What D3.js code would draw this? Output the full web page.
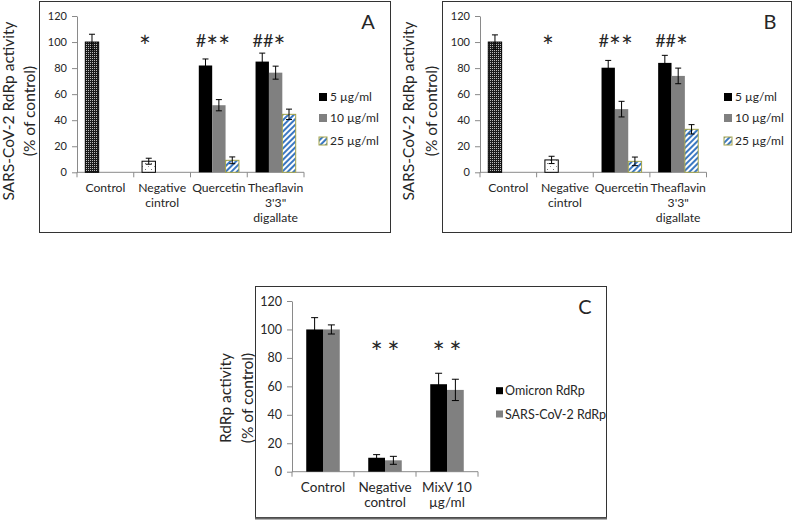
<!DOCTYPE html>
<html><head><meta charset="utf-8">
<script src="https://cdn.jsdelivr.net/npm/d3@7/dist/d3.min.js"></script>
<style>
body{margin:0;background:#fff}
svg{display:block}
text{font-family:Lato,"Liberation Sans",sans-serif;fill:#262626}
</style>
</head><body>
<svg id="chart" width="797" height="521"></svg>
<script>
// ---------- DATA ----------
const categoriesAB = ["Control", "Negative cintrol", "Quercetin", "Theaflavin 3'3\" digallate"];
const categoryLinesAB = [["Control"], ["Negative", "cintrol"], ["Quercetin"], ["Theaflavin", "3'3\"", "digallate"]];
const doseSeries = ["5 µg/ml", "10 µg/ml", "25 µg/ml"];
const yTicksAB = [0, 20, 40, 60, 80, 100, 120];
const yLabelLinesAB = ["SARS-CoV-2 RdRp activity", "(% of control)"];

// Panel A  (reference bars: Control, Negative cintrol; dose bars: Quercetin, Theaflavin)
const A_refValues = [100, 8.5];
const A_refErrors = [6, 2.3];
const A_dose5 = [82, 85];
const A_dose5Err = [5, 6.5];
const A_dose10 = [51.5, 76.5];
const A_dose10Err = [4.3, 5];
const A_dose25 = [9.2, 44.5];
const A_dose25Err = [2.6, 4];
const A_marks = ["", "*", "#**", "##*"];

// Panel B
const B_refValues = [100, 9.5];
const B_refErrors = [5.5, 2.8];
const B_dose5 = [80.3, 84];
const B_dose5Err = [5.6, 5.8];
const B_dose10 = [48.5, 74];
const B_dose10Err = [6, 6];
const B_dose25 = [8.4, 33];
const B_dose25Err = [3.3, 3.6];
const B_marks = ["", "*", "#**", "##*"];

// Panel C
const categoriesC = ["Control", "Negative control", "MixV 10 µg/ml"];
const categoryLinesC = [["Control"], ["Negative", "control"], ["MixV 10", "µg/ml"]];
const enzymeSeries = ["Omicron RdRp", "SARS-CoV-2 RdRp"];
const C_omicron = [100, 9.8, 61.5];
const C_omicronErr = [8.3, 2.2, 7.7];
const C_sars = [100, 8, 57.5];
const C_sarsErr = [3.2, 2.8, 7.5];
const C_marks = [["", ""], ["*", "*"], ["*", "*"]];
const yTicksC = [0, 20, 40, 60, 80, 100, 120];
const yLabelLinesC = ["RdRp activity", "(% of control)"];

// ---------- DRAWING ----------
const svg = d3.select("#chart");
svg.append("rect").attr("width", 797).attr("height", 521).attr("fill", "#fff");
const defs = svg.append("defs");

const pc = defs.append("pattern").attr("id", "checker").attr("patternUnits", "userSpaceOnUse")
  .attr("width", 2).attr("height", 2);
pc.append("rect").attr("width", 2).attr("height", 2).attr("fill", "#1a1a1a");
pc.append("rect").attr("width", 1).attr("height", 1).attr("fill", "#bbbbbb");
const pd = defs.append("pattern").attr("id", "dots").attr("patternUnits", "userSpaceOnUse")
  .attr("width", 6).attr("height", 6);
pd.append("rect").attr("width", 6).attr("height", 6).attr("fill", "#fff");
pd.append("rect").attr("x", 1).attr("y", 1).attr("width", 1).attr("height", 1).attr("fill", "#777");
pd.append("rect").attr("x", 4).attr("y", 4).attr("width", 1).attr("height", 1).attr("fill", "#999");
const ps = defs.append("pattern").attr("id", "stripes").attr("patternUnits", "userSpaceOnUse")
  .attr("width", 4).attr("height", 4).attr("patternTransform", "rotate(45)");
ps.append("rect").attr("width", 4).attr("height", 4).attr("fill", "#fff");
ps.append("rect").attr("width", 2).attr("height", 4).attr("fill", "#3b78c2");

const doseFill = ["#000000", "#808080", "url(#stripes)"];
const doseStroke = ["none", "none", "#a3a34a"];
const refFill = ["url(#checker)", "url(#dots)"];
const axisColor = "#8a8a8a";

function errorBar(g, cx, y, v, e, cap) {
  g.append("line").attr("x1", cx).attr("x2", cx).attr("y1", y(v + e)).attr("y2", y(v - e))
    .attr("stroke", "#000").attr("stroke-width", 1);
  [v + e, v - e].forEach(t => g.append("line").attr("x1", cx - cap).attr("x2", cx + cap)
    .attr("y1", y(t)).attr("y2", y(t)).attr("stroke", "#000").attr("stroke-width", 1));
}

function yAxis(g, y, ticks, left, fontSize) {
  const ax = g.append("g").attr("transform", `translate(${left},0)`)
    .call(d3.axisLeft(y).tickValues(ticks).tickSize(5).tickPadding(5).tickSizeOuter(0));
  ax.select(".domain").attr("stroke", axisColor);
  ax.selectAll(".tick line").attr("stroke", axisColor);
  ax.selectAll(".tick text").attr("font-size", fontSize).attr("font-family", "Lato").attr("fill", "#333");
}

function xAxis(g, x, y, lines, fontSize, lineGap, firstOffset) {
  const [r0, r1] = x.range();
  g.append("line").attr("x1", r0).attr("x2", r1).attr("y1", y(0)).attr("y2", y(0)).attr("stroke", axisColor);
  x.domain().forEach((c, i) => {
    const bx = x(c);
    g.append("line").attr("x1", bx).attr("x2", bx).attr("y1", y(0)).attr("y2", y(0) + 5).attr("stroke", axisColor);
    const t = g.append("text").attr("text-anchor", "middle").attr("font-size", fontSize);
    lines[i].forEach((ln, k) => t.append("tspan").attr("x", bx + x.bandwidth() / 2)
      .attr("y", y(0) + firstOffset + k * lineGap).text(ln));
  });
  g.append("line").attr("x1", r1).attr("x2", r1).attr("y1", y(0)).attr("y2", y(0) + 5).attr("stroke", axisColor);
}

function yLabel(g, lines, xs, cy, fontSize) {
  lines.forEach((ln, k) => g.append("text").attr("transform", `translate(${xs[k]},${cy}) rotate(-90)`)
    .attr("text-anchor", "middle").attr("font-size", fontSize).text(ln));
}

// significance mark: '#' at normal size, '*' enlarged and lowered
function markText(g, x, baseline, str, starSize, starBaseline, anchor) {
  const t = g.append("text").attr("x", x).attr("y", baseline).attr("text-anchor", anchor)
    .attr("font-family", "DejaVu Sans").attr("fill", "#111");
  str.split("").forEach(ch => {
    const sp = t.append("tspan").text(ch);
    if (ch === "*") sp.attr("font-size", starSize).attr("y", starBaseline);
    else sp.attr("font-size", 18).attr("y", baseline);
  });
}

function panelAB(o) {
  const g = svg.append("g");
  g.append("rect").attr("x", o.frame[0]).attr("y", o.frame[1]).attr("width", o.frame[2]).attr("height", o.frame[3])
    .attr("fill", "none").attr("stroke", "#333");
  const y = d3.scaleLinear().domain([0, 120]).range([o.plot[3], o.plot[1]]);
  const x = d3.scaleBand().domain(categoriesAB).range([o.plot[0], o.plot[2]]).paddingInner(0).paddingOuter(0);
  const xs = d3.scaleBand().domain(doseSeries).range([0, x.bandwidth()]).paddingInner(0).paddingOuter(0.62);
  yAxis(g, y, yTicksAB, o.plot[0], 11);
  xAxis(g, x, y, categoryLinesAB, 12.2, 15, 20);
  o.ref.forEach((v, i) => {
    const bx = x(categoriesAB[i]) + xs(doseSeries[0]);
    g.append("rect").attr("x", bx).attr("y", y(v)).attr("width", xs.bandwidth()).attr("height", y(0) - y(v))
      .attr("fill", refFill[i]).attr("stroke", "#000").attr("stroke-width", 1);
    errorBar(g, bx + xs.bandwidth() / 2, y, v, o.refErr[i], 3);
  });
  o.doses.forEach((vals, s) => {
    vals.forEach((v, j) => {
      const bx = x(categoriesAB[j + 2]) + xs(doseSeries[s]);
      const r = g.append("rect").attr("x", bx).attr("y", y(v)).attr("width", xs.bandwidth())
        .attr("height", y(0) - y(v)).attr("fill", doseFill[s]);
      if (doseStroke[s] !== "none") r.attr("stroke", doseStroke[s]).attr("stroke-width", 1);
      errorBar(g, bx + xs.bandwidth() / 2, y, v, o.doseErr[s][j], 3);
    });
  });
  o.marks.forEach((m, i) => {
    if (!m) return;
    markText(g, x(categoriesAB[i]) + xs(doseSeries[0]) - 3, 47, m, 28, 57, "start");
  });
  doseSeries.forEach((s, k) => {
    const ly = o.legendY[k];
    g.append("rect").attr("x", o.legendX).attr("y", ly - 4).attr("width", 8).attr("height", 8)
      .attr("fill", doseFill[k]).attr("stroke", doseStroke[k] === "none" ? "none" : doseStroke[k]);
    g.append("text").attr("x", o.legendX + 11).attr("y", ly + 4).attr("font-size", 12).text(s);
  });
  g.append("text").attr("x", o.letter[0]).attr("y", o.letter[1]).attr("text-anchor", "middle")
    .attr("font-size", 20).text(o.letterText);
  yLabel(g, yLabelLinesAB, o.ylabX, 111, 15.5);
}

panelAB({
  frame: [39.5, 1.5, 351, 231], plot: [77, 16, 304, 172.3],
  ref: A_refValues, refErr: A_refErrors,
  doses: [A_dose5, A_dose10, A_dose25], doseErr: [A_dose5Err, A_dose10Err, A_dose25Err],
  marks: A_marks, legendX: 319, legendY: [97, 118, 141], letter: [368, 29], letterText: "A", ylabX: [14, 35]
});
panelAB({
  frame: [442.5, 1.5, 349, 231], plot: [480, 16, 706.5, 172.3],
  ref: B_refValues, refErr: B_refErrors,
  doses: [B_dose5, B_dose10, B_dose25], doseErr: [B_dose5Err, B_dose10Err, B_dose25Err],
  marks: B_marks, legendX: 724, legendY: [97, 118, 141], letter: [770, 29], letterText: "B", ylabX: [414, 437]
});

// Panel C
(function () {
  const g = svg.append("g");
  g.append("rect").attr("x", 255.5).attr("y", 286.5).attr("width", 351).attr("height", 231)
    .attr("fill", "none").attr("stroke", "#333");
  g.append("line").attr("x1", 255).attr("x2", 607).attr("y1", 518.5).attr("y2", 518.5).attr("stroke", "#666").attr("stroke-width", 2);
  const y = d3.scaleLinear().domain([0, 120]).range([471.7, 301]);
  const x = d3.scaleBand().domain(categoriesC).range([292, 478]).paddingInner(0).paddingOuter(0);
  const xs = d3.scaleBand().domain(enzymeSeries).range([0, x.bandwidth()]).paddingInner(0).paddingOuter(0.85);
  yAxis(g, y, yTicksC, 292, 12.5);
  xAxis(g, x, y, categoryLinesC, 13.5, 15, 20);
  const vals = [C_omicron, C_sars], errs = [C_omicronErr, C_sarsErr], fills = ["#000", "#808080"];
  enzymeSeries.forEach((s, k) => {
    categoriesC.forEach((c, i) => {
      const v = vals[k][i];
      const bx = x(c) + xs(s);
      g.append("rect").attr("x", bx).attr("y", y(v)).attr("width", xs.bandwidth()).attr("height", y(0) - y(v))
        .attr("fill", fills[k]);
      errorBar(g, bx + xs.bandwidth() / 2, y, v, errs[k][i], 3.5);
      const m = C_marks[i][k];
      if (m) markText(g, bx + xs.bandwidth() / 2, 363, m, 29, 363, "middle");
    });
  });
  enzymeSeries.forEach((s, k) => {
    const ly = [390.7, 414][k];
    g.append("rect").attr("x", 496).attr("y", ly - 3.5).attr("width", 7).attr("height", 7).attr("fill", fills[k]);
    g.append("text").attr("x", 505).attr("y", ly + 4.5).attr("font-size", 12.5).text(s);
  });
  g.append("text").attr("x", 585).attr("y", 314).attr("text-anchor", "middle").attr("font-size", 20).text("C");
  yLabel(g, yLabelLinesC, [231, 253], 398, 15.5);
})();
</script>
</body></html>
